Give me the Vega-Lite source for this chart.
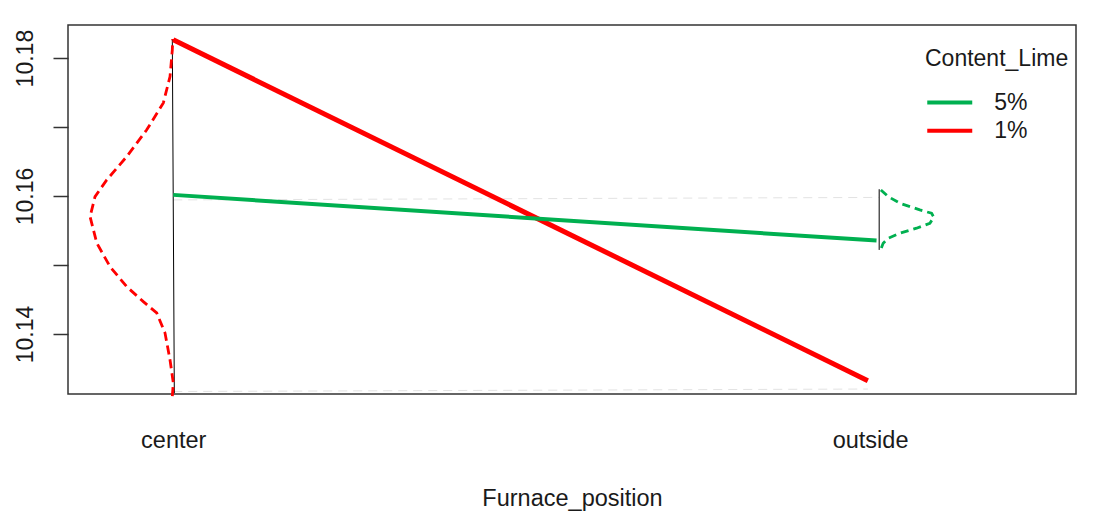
{
  "$schema": "https://vega.github.io/schema/vega-lite/v6.json",
  "width": 1008,
  "height": 369,
  "autosize": "none",
  "padding": {"left": 68, "top": 25, "right": 40, "bottom": 121},
  "background": "white",
  "config": {
    "view": {"stroke": "#333333", "strokeWidth": 1.5},
    "font": "Liberation Sans",
    "axis": {"grid": false, "labelColor": "#1a1a1a", "titleColor": "#1a1a1a", "labelFont": "Liberation Sans", "titleFont": "Liberation Sans"},
    "legend": {"labelFont": "Liberation Sans", "titleFont": "Liberation Sans"}
  },
  "datasets": {
    "lines": [
      {"pos": 1, "value": 10.18266, "lime": "1%"},
      {"pos": 1.9968, "value": 10.13322, "lime": "1%"},
      {"pos": 1, "value": 10.16017, "lime": "5%"},
      {"pos": 2.0093, "value": 10.15354, "lime": "5%"}
    ],
    "dens1": [
      {"i": 1, "pos": 0.99871, "value": 10.13100},
      {"i": 2, "pos": 1.00014, "value": 10.13289},
      {"i": 3, "pos": 0.99541, "value": 10.13623},
      {"i": 4, "pos": 0.98824, "value": 10.14014},
      {"i": 5, "pos": 0.97633, "value": 10.14305},
      {"i": 6, "pos": 0.95710, "value": 10.14469},
      {"i": 7, "pos": 0.93329, "value": 10.14686},
      {"i": 8, "pos": 0.90933, "value": 10.14976},
      {"i": 9, "pos": 0.89025, "value": 10.15320},
      {"i": 10, "pos": 0.88063, "value": 10.15702},
      {"i": 11, "pos": 0.88780, "value": 10.15992},
      {"i": 12, "pos": 0.90459, "value": 10.16234},
      {"i": 13, "pos": 0.93329, "value": 10.16572},
      {"i": 14, "pos": 0.96198, "value": 10.16960},
      {"i": 15, "pos": 0.98580, "value": 10.17351},
      {"i": 16, "pos": 0.99541, "value": 10.17733},
      {"i": 17, "pos": 0.99871, "value": 10.18120},
      {"i": 18, "pos": 0.99928, "value": 10.18276}
    ],
    "dens5": [
      {"i": 1, "pos": 2.01549, "value": 10.16089},
      {"i": 2, "pos": 2.02597, "value": 10.15992},
      {"i": 3, "pos": 2.04276, "value": 10.15896},
      {"i": 4, "pos": 2.07145, "value": 10.15799},
      {"i": 5, "pos": 2.08824, "value": 10.15751},
      {"i": 6, "pos": 2.09154, "value": 10.15693},
      {"i": 7, "pos": 2.08580, "value": 10.15606},
      {"i": 8, "pos": 2.06671, "value": 10.15534},
      {"i": 9, "pos": 2.04276, "value": 10.15461},
      {"i": 10, "pos": 2.02597, "value": 10.15388},
      {"i": 11, "pos": 2.01879, "value": 10.15316},
      {"i": 12, "pos": 2.01549, "value": 10.15229}
    ],
    "spines": [
      {"seg": "a", "pos": 0.99871, "value": 10.18266},
      {"seg": "a", "pos": 1.00158, "value": 10.13144},
      {"seg": "b", "pos": 2.01306, "value": 10.16099},
      {"seg": "b", "pos": 2.01306, "value": 10.15219}
    ],
    "guides": [
      {"seg": "a", "pos": 1.0, "value": 10.15944},
      {"seg": "a", "pos": 2.01263, "value": 10.15980},
      {"seg": "b", "pos": 1.0, "value": 10.13166},
      {"seg": "b", "pos": 1.99684, "value": 10.13202}
    ]
  },
  "encoding": {
    "x": {
      "field": "pos", "type": "quantitative",
      "scale": {"domain": [0.849, 2.2955], "nice": false, "zero": false},
      "axis": {
        "values": [1, 2],
        "labelExpr": "datum.value == 1 ? 'center' : (datum.value == 2 ? 'outside' : '')",
        "ticks": false, "tickSize": 0, "domain": false,
        "labelFontSize": 23.5, "labelBaseline": "alphabetic", "labelPadding": 53,
        "labelFlush": false, "labelOverlap": false,
        "title": "Furnace_position", "titleFontSize": 23.5, "titleFontWeight": "normal",
        "titleBaseline": "alphabetic", "titleY": 111
      }
    },
    "y": {
      "field": "value", "type": "quantitative",
      "scale": {"domain": [10.1313, 10.1848], "nice": false, "zero": false},
      "axis": {
        "values": [10.14, 10.15, 10.16, 10.17, 10.18],
        "labelExpr": "(abs(datum.value - 10.14) < 0.001 || abs(datum.value - 10.16) < 0.001 || abs(datum.value - 10.18) < 0.001) ? format(datum.value, '.2f') : ''",
        "domain": false, "tickSize": 15, "tickColor": "#333333", "tickWidth": 1.5,
        "labelAngle": -90, "labelAlign": "center", "labelBaseline": "alphabetic",
        "labelPadding": 21, "labelFontSize": 23, "labelOverlap": false, "labelFlush": false,
        "title": null
      }
    }
  },
  "layer": [
    {
      "data": {"name": "guides"},
      "mark": {"type": "line", "color": "#e3e3e3", "strokeWidth": 1, "strokeDash": [9, 6]},
      "encoding": {"detail": {"field": "seg"}}
    },
    {
      "data": {"name": "spines"},
      "mark": {"type": "line", "color": "#000000", "strokeWidth": 1},
      "encoding": {"detail": {"field": "seg"}}
    },
    {
      "data": {"name": "dens1"},
      "mark": {"type": "line", "color": "#FF0000", "strokeWidth": 2.8, "strokeDash": [9, 5], "clip": false},
      "encoding": {"order": {"field": "i", "type": "quantitative"}}
    },
    {
      "data": {"name": "dens5"},
      "mark": {"type": "line", "color": "#00B050", "strokeWidth": 2.8, "strokeDash": [8, 5], "clip": false},
      "encoding": {"order": {"field": "i", "type": "quantitative"}}
    },
    {
      "data": {"name": "lines"},
      "mark": {"type": "line", "strokeCap": "butt"},
      "encoding": {
        "color": {
          "field": "lime", "type": "nominal",
          "scale": {"domain": ["5%", "1%"], "range": ["#00B050", "#FF0000"]},
          "legend": {
            "orient": "none", "legendX": 857, "legendY": 23,
            "title": "Content_Lime", "titleFontSize": 23, "titleFontWeight": "normal", "titleColor": "#1a1a1a",
            "labelFontSize": 23, "labelColor": "#1a1a1a",
            "symbolType": "M-2,0H2", "symbolSize": 506, "symbolStrokeWidth": 4, "symbolOffset": 11.25,
            "labelOffset": 31, "rowPadding": 2.2, "titlePadding": 18, "padding": 0
          }
        },
        "strokeWidth": {"condition": {"test": "datum.lime == '1%'", "value": 5}, "value": 4}
      }
    }
  ]
}
